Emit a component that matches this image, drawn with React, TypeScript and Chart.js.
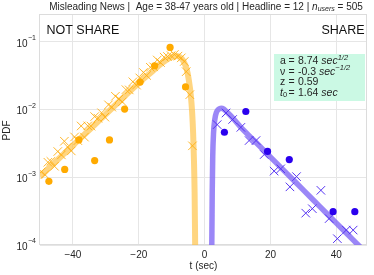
import React, { useEffect, useRef } from 'react';
import { Chart, registerables } from 'chart.js';
Chart.register(...registerables);

const FONT = '"Liberation Sans", Arial, sans-serif';

// ---- data ----
const orangeDotT = [-47.3, -42.5, -38.2, -33.4, -28.9, -24.3, -19.6, -15.2, -10.5, -5.8];
const orangeDotV = [0.00087, 0.0013, 0.00355, 0.00176, 0.00355, 0.0101, 0.0253, 0.044, 0.082, 0.0214];

const orangeCrossT = [-49.6, -48.5, -47.6, -46.7, -45.6, -44.6, -43.5, -42.6, -41.6, -40.5, -39.5, -38.5, -37.5, -36.5, -35.5, -34.5, -33.4, -32.4, -31.3, -30.3, -29.2, -28.2, -27.1, -26.0, -25.0, -23.9, -22.9, -21.8, -20.7, -19.7, -18.6, -17.6, -16.5, -15.5, -14.4, -13.4, -12.3, -11.3, -10.2, -9.2, -8.1, -7.1, -6.2, -5.6, -4.5, -3.7];
const orangeCrossV = [0.0012, 0.00109, 0.00166, 0.00171, 0.00145, 0.00239, 0.00213, 0.00339, 0.00279, 0.00244, 0.00392, 0.00346, 0.00569, 0.0039, 0.00571, 0.00566, 0.00783, 0.00741, 0.00891, 0.00769, 0.01167, 0.0108, 0.0156, 0.01426, 0.0129, 0.01954, 0.01936, 0.02553, 0.0228, 0.0291, 0.035, 0.0316, 0.0418, 0.0424, 0.0535, 0.049, 0.0589, 0.0603, 0.062, 0.0645, 0.061, 0.0575, 0.0508, 0.036, 0.0165, 0.0029];

const orangeFitT = [-50, -45, -40, -35, -30, -25, -20, -16, -13, -11, -9.5, -8.5, -7.5, -6.5, -5.5, -4.8, -4.2, -3.8, -3.5, -3.25, -3.05, -2.9, -2.8];
const orangeFitV = [0.00102, 0.00174, 0.00295, 0.00501, 0.0085, 0.0145, 0.0245, 0.036, 0.048, 0.056, 0.06, 0.061, 0.059, 0.052, 0.04, 0.027, 0.016, 0.009, 0.0045, 0.0018, 0.0006, 0.00012, 0.00004];

const purpleDotT = [6.0, 12.5, 19.1, 25.7, 39.0, 45.6];
const purpleDotV = [0.0046, 0.0093, 0.0024, 0.00182, 0.00031, 0.00031];

const purpleCrossT = [3.8, 6.5, 8.5, 11.0, 13.5, 15.6, 18.1, 21.1, 23.1, 25.9, 27.9, 30.7, 32.7, 35.3, 37.8, 40.3, 43.0, 45.1];
const purpleCrossV = [0.00596, 0.00885, 0.0071, 0.00543, 0.00347, 0.00347, 0.00216, 0.00123, 0.00133, 0.00072, 0.00102, 0.000295, 0.000343, 0.00064, 0.000245, 0.000124, 0.000166, 0.000166];

const purpleFitT = [2.1, 2.2, 2.3, 2.45, 2.7, 3.1, 3.6, 4.3, 5.0, 5.8, 7.0, 8.5, 11, 15, 20, 25, 30, 35, 40, 45, 48];
const purpleFitV = [0.00005, 0.00015, 0.0006, 0.002, 0.0045, 0.0072, 0.0091, 0.0101, 0.0104, 0.0101, 0.0089, 0.0075, 0.00543, 0.00347, 0.00198, 0.00113, 0.000645, 0.000368, 0.00021, 0.00012, 0.0000857];

const xTicks = [-40, -20, 0, 20, 40];
const yTicks = [1e-4, 1e-3, 1e-2, 1e-1];
const yTickExp = ['\u22124', '\u22123', '\u22122', '\u22121'];

const titleParts = ['Misleading News |  Age = 38-47 years old | Headline = 12 | ', 'n', 'users', ' = 505'];
const paramNames = ['a', '\u03bd', 'z', 't'];
const paramValues = ['8.74', '-0.3', '0.59', '1.64'];
const paramUnitExp = ['1/2', '\u22121/2', '', ''];

const pts = (xs: number[], ys: number[]) => xs.map((x, i) => ({ x, y: ys[i] }));

type Seg = { t: string; size: number; italic?: boolean; dy?: number };

function segWidth(ctx: CanvasRenderingContext2D, s: Seg) {
  ctx.font = `${s.italic ? 'italic ' : ''}${s.size}px ${FONT}`;
  return ctx.measureText(s.t).width;
}
function drawSegs(ctx: CanvasRenderingContext2D, segs: Seg[], x: number, y: number, align: 'left' | 'center' | 'right') {
  const total = segs.reduce((a, s) => a + segWidth(ctx, s), 0);
  let cx = align === 'left' ? x : align === 'center' ? x - total / 2 : x - total;
  ctx.textAlign = 'left';
  ctx.textBaseline = 'middle';
  for (const s of segs) {
    ctx.font = `${s.italic ? 'italic ' : ''}${s.size}px ${FONT}`;
    ctx.fillText(s.t, cx, y + (s.dy || 0));
    cx += ctx.measureText(s.t).width;
  }
  return cx;
}

const textPlugin = {
  id: 'texts',
  beforeDatasetsDraw(chart: any) {
    const { ctx, chartArea: a } = chart;
    ctx.save();
    ctx.strokeStyle = '#dcdcdc';
    ctx.lineWidth = 1;
    ctx.strokeRect(Math.round(a.left) - 0.5, Math.round(a.top) + 0.5, Math.round(a.right - a.left), Math.round(a.bottom - a.top) - 1);
    ctx.restore();
  },
  afterDraw(chart: any) {
    const { ctx, chartArea: a, scales } = chart;
    const xs = scales.x, ys = scales.y;
    ctx.save();
    ctx.fillStyle = '#262626';
    // y tick labels
    yTicks.forEach((v, i) => {
      const py = ys.getPixelForValue(v);
      ctx.font = `7px ${FONT}`;
      ctx.textAlign = 'right';
      ctx.textBaseline = 'middle';
      ctx.fillText(yTickExp[i], 36, py - 3.5);
      const w = ctx.measureText(yTickExp[i]).width;
      ctx.font = `10px ${FONT}`;
      ctx.fillText('10', 36 - w - 0.5, py + 2.3);
    });
    // x tick labels
    ctx.font = `10px ${FONT}`;
    ctx.textAlign = 'center';
    ctx.textBaseline = 'middle';
    xTicks.forEach((v) => {
      const px = xs.getPixelForValue(v);
      const lab = v < 0 ? '\u2212' + Math.abs(v) : String(v);
      ctx.fillText(lab, px, 255.5);
    });
    // axis titles
    ctx.fillText('t (sec)', (a.left + a.right) / 2, 266.5);
    ctx.save();
    ctx.translate(7, (a.top + a.bottom) / 2 + 1);
    ctx.rotate(-Math.PI / 2);
    ctx.fillText('PDF', 0, 0);
    ctx.restore();
    // title
    drawSegs(ctx, [
      { t: titleParts[0], size: 10 },
      { t: titleParts[1], size: 10, italic: true },
      { t: titleParts[2], size: 7, italic: true, dy: 2.5 },
      { t: titleParts[3], size: 10 },
    ], 206, 7, 'center');
    // corner labels
    ctx.fillStyle = '#111';
    ctx.font = `12.5px ${FONT}`;
    ctx.textAlign = 'left';
    ctx.textBaseline = 'middle';
    ctx.fillText('NOT SHARE', 46.5, 31);
    ctx.textAlign = 'right';
    ctx.fillText('SHARE', 364.5, 31);
    // parameter box
    ctx.fillStyle = '#cbf9e4';
    ctx.fillRect(274, 54, 91, 47);
    ctx.fillStyle = '#262626';
    const rowY = [61.5, 71.8, 82.3, 92.7];
    paramNames.forEach((n, i) => {
      const y = rowY[i];
      if (i === 3) {
        drawSegs(ctx, [{ t: 't', size: 10.5, italic: true }, { t: '0', size: 7.5, dy: 2.5 }], 280, y, 'left');
      } else {
        drawSegs(ctx, [{ t: n, size: 10.5 }], 280, y, 'left');
      }
      drawSegs(ctx, [{ t: '=', size: 10.5 }], 288.5, y, 'left');
      const end = drawSegs(ctx, [{ t: paramValues[i], size: 10.5 }], 298, y, 'left');
      if (i !== 2) {
        const segs: Seg[] = [{ t: ' sec', size: 10.5, italic: true }];
        if (paramUnitExp[i]) segs.push({ t: paramUnitExp[i], size: 7.5, italic: true, dy: -3.5 });
        drawSegs(ctx, segs, end, y, 'left');
      }
    });
    ctx.restore();
  },
};

export default function App() {
  const ref = useRef<HTMLCanvasElement>(null);
  useEffect(() => {
    document.body.style.margin = '0';
    const chart = new Chart(ref.current!, {
      type: 'scatter',
      data: {
        datasets: [
          {
            data: pts(orangeFitT, orangeFitV), showLine: true, pointRadius: 0, borderWidth: 6,
            borderColor: 'rgba(255,190,60,0.65)', cubicInterpolationMode: 'monotone', order: 5, clip: 0,
          } as any,
          {
            data: pts(purpleFitT, purpleFitV), showLine: true, pointRadius: 0, borderWidth: 5.5,
            borderColor: 'rgba(130,105,245,0.8)', cubicInterpolationMode: 'monotone', order: 5, clip: 0,
          } as any,
          {
            data: pts(orangeCrossT, orangeCrossV), pointStyle: 'crossRot', pointRadius: 6, borderWidth: 1,
            borderColor: 'rgba(255,175,20,0.9)', backgroundColor: 'rgba(255,175,20,0.9)', order: 3,
          },
          {
            data: pts(purpleCrossT, purpleCrossV), pointStyle: 'crossRot', pointRadius: 6, borderWidth: 1,
            borderColor: '#5533f2', backgroundColor: '#5533f2', order: 3,
          },
          {
            data: pts(orangeDotT, orangeDotV), pointStyle: 'circle', pointRadius: 3.6, borderWidth: 0,
            backgroundColor: '#ffaa00', order: 1,
          },
          {
            data: pts(purpleDotT, purpleDotV), pointStyle: 'circle', pointRadius: 3.6, borderWidth: 0,
            backgroundColor: '#2a00ee', order: 1,
          },
        ],
      },
      options: {
        animation: false,
        responsive: false,
        devicePixelRatio: 1,
        layout: { padding: { left: 0, right: 6, top: 14, bottom: 0 } },
        plugins: { legend: { display: false }, tooltip: { enabled: false }, title: { display: false } },
        scales: {
          x: {
            type: 'linear', min: -50, max: 49.3,
            afterBuildTicks: (s: any) => { s.ticks = xTicks.map((v) => ({ value: v })); },
            afterFit: (s: any) => { s.height = 30; },
            ticks: { display: false },
            grid: { color: '#e6e6e6', drawTicks: false, lineWidth: 1 },
            border: { display: false },
          },
          y: {
            type: 'logarithmic', min: 1e-4, max: 0.255,
            afterBuildTicks: (s: any) => { s.ticks = yTicks.map((v) => ({ value: v })); },
            afterFit: (s: any) => { s.width = 40; },
            ticks: { display: false },
            grid: { color: '#e6e6e6', drawTicks: false, lineWidth: 1 },
            border: { display: false },
          },
        },
      },
      plugins: [textPlugin],
    });
    return () => chart.destroy();
  }, []);
  return (
    <div style={{ width: 374, height: 275 }}>
      <canvas ref={ref} width={374} height={275} style={{ width: 374, height: 275, display: 'block' }} />
    </div>
  );
}
